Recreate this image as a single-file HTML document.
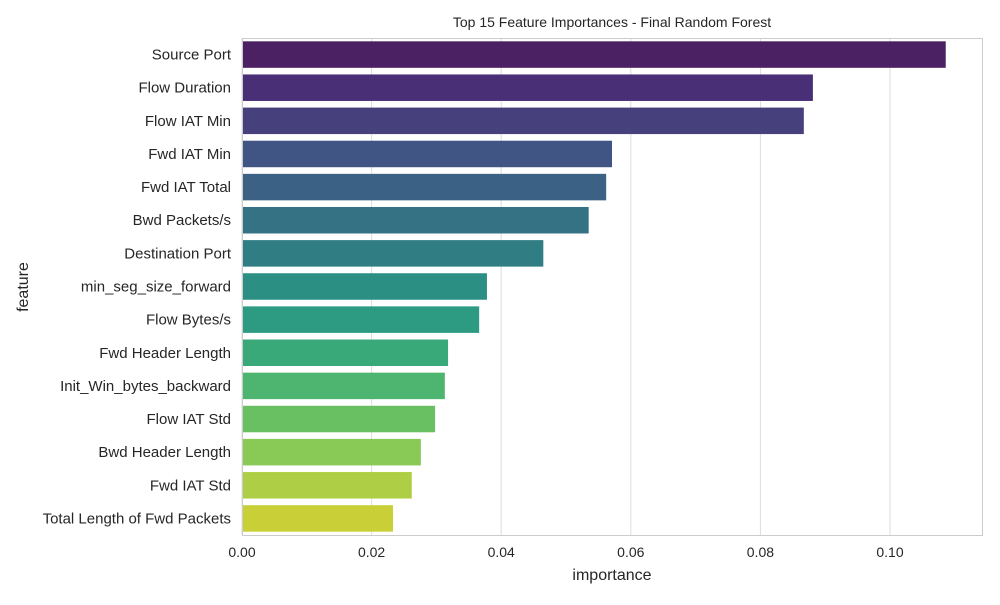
<!DOCTYPE html>
<html><head><meta charset="utf-8"><style>
body{margin:0;background:#fff;}
svg text{font-family:"Liberation Sans","DejaVu Sans",sans-serif;fill:#262626;}
</style></head><body>
<svg id="chart" width="1000" height="600">
<rect width="1000" height="600" fill="#fff"/>
<text x="612" y="27" font-size="14" text-anchor="middle">Top 15 Feature Importances - Final Random Forest</text>
<g id="grid"></g><g id="bars"></g><g id="yt"></g><g id="xt"></g>
<rect x="242.5" y="38.5" width="740" height="497" fill="none" stroke="#cccccc" stroke-width="1"/>
<text x="612" y="580" font-size="16" text-anchor="middle">importance</text>
<text transform="translate(28,287) rotate(-90)" font-size="16" text-anchor="middle">feature</text>
</svg>
<script>
const features=["Source Port","Flow Duration","Flow IAT Min","Fwd IAT Min","Fwd IAT Total","Bwd Packets/s","Destination Port","min_seg_size_forward","Flow Bytes/s","Fwd Header Length","Init_Win_bytes_backward","Flow IAT Std","Bwd Header Length","Fwd IAT Std","Total Length of Fwd Packets"];
const importance=[0.1086,0.0881,0.0867,0.0571,0.0562,0.0535,0.0465,0.0378,0.0366,0.0318,0.0313,0.0298,0.0276,0.0262,0.0233];
const xTicks=[0,0.02,0.04,0.06,0.08,0.10];
const xTickLabels=["0.00","0.02","0.04","0.06","0.08","0.10"];
const colors=["#4b2163","#482f76","#46407d","#405583","#3b6284","#357384","#307e84","#2b8f84","#2d9a82","#3aa97a","#4db56f","#68c062","#89c955","#aecf45","#c9cf36"];
const NS="http://www.w3.org/2000/svg";
const L=242,R=982,T=38,B=535;
const x=v=>L+v/0.1*648;
const band=(B-T)/features.length;
const y=i=>T+band*i;
const g=document.getElementById('grid'),bg=document.getElementById('bars'),yt=document.getElementById('yt'),xt=document.getElementById('xt');
function mk(tag,attrs,parent,text){const e=document.createElementNS(NS,tag);for(const k in attrs)e.setAttribute(k,attrs[k]);if(text!==undefined)e.textContent=text;parent.appendChild(e);return e;}
xTicks.forEach((v,i)=>{
 const ln=mk('line',{x1:x(v),x2:x(v),y1:T,y2:B,stroke:'#dddddd','stroke-width':1},g);
 
 
 const t=mk('text',{x:x(v),y:B+22,'font-size':14,'text-anchor':'middle'},xt,xTickLabels[i]);
 
 
});
features.forEach((f,i)=>{
 const r=mk('rect',{x:x(0),y:y(i)+band*0.1,width:x(importance[i])-x(0),height:band*0.8,fill:colors[i]},bg);
 
 
 const t=mk('text',{x:L-11,y:y(i)+band/2+5,'font-size':15,'text-anchor':'end'},yt,f);
 
 
});
</script>
</body></html>
